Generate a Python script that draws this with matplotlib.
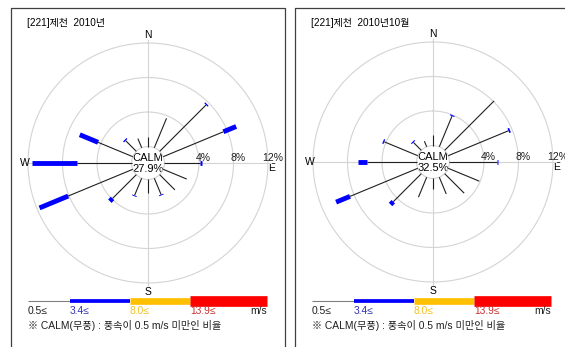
import numpy as np
import matplotlib
matplotlib.use("Agg")
import matplotlib.pyplot as plt

# 16 directions clockwise from north, percent of observations per speed class
dirs_deg = np.arange(16) * 22.5
calm = [27.9, 32.5]
titles = ["[221]제천  2010년", "[221]제천  2010년10월"]
black_pct = [
    [1.1, 3.7, 7.6, 7.55, 4.1, 2.95, 2.5, 2.05, 1.6, 2.15, 3.9, 8.1, 6.35, 4.35, 1.75, 1.15],
    [1.2, 3.85, 8.1, 7.55, 5.55, 3.9, 3.2, 2.1, 1.25, 2.5, 4.6, 8.5, 5.7, 4.2, 1.3, 0.7],
]
blue_pct = [
    [0, 0, 0.15, 1.6, 0.3, 0, 0, 0.1, 0, 0.1, 0.45, 3.6, 5.2, 2.3, 0.15, 0],
    [0, 0.12, 0, 0.2, 0.1, 0, 0, 0, 0, 0, 0.45, 1.75, 1.05, 0.15, 0.12, 0],
]
ring_pct = [4, 8, 12]
ring_labels = ["4%", "8%", "12%"]
speed_labels = ["0.5≤", "3.4≤", "8.0≤", "13.9≤"]
speed_colors = ["#808080", "#0000ff", "#ffc000", "#ff0000"]
label_colors = ["#202020", "#3030b8", "#f0c020", "#c83030"]

W, H = 565, 347
R0 = 1.91      # calm circle offset (in % units)
RMAX = 12
FONT = ["Liberation Sans", "Noto Sans CJK KR", "DejaVu Sans"]
GRID = "#d4d4d4"

fig = plt.figure(figsize=(W / 100, H / 100), dpi=100)
fig.patch.set_facecolor("white")

# overlay in pixel coordinates for frames / legend
ov = fig.add_axes([0, 0, 1, 1])
ov.set_xlim(0, W)
ov.set_ylim(H, 0)
ov.axis("off")

centers = [(148, 163), (433, 162)]
frame_x = [11, 295]
rad_px = 120

for p in range(2):
    cx, cy = centers[p]
    ax = fig.add_axes([(cx - rad_px) / W, (H - cy - rad_px) / H,
                       2 * rad_px / W, 2 * rad_px / H], projection="polar")
    ax.set_theta_zero_location("N")
    ax.set_theta_direction(-1)
    ax.set_ylim(-R0, RMAX)
    ax.axis("off")

    th = np.linspace(0, 2 * np.pi, 361)
    for r in ring_pct:
        ax.plot(th, np.full_like(th, r), color=GRID, lw=0.8, clip_on=False, zorder=1)
    ax.plot(th, np.zeros_like(th), color=GRID, lw=0.8, clip_on=False, zorder=1)
    for a in [0, 90, 180, 270]:
        ax.plot([np.radians(a)] * 2, [0, 12.4], color=GRID, lw=0.8, clip_on=False, zorder=1)

    for d, b, u in zip(dirs_deg, black_pct[p], blue_pct[p]):
        t = np.radians(d)
        ax.plot([t, t], [0, b], color="#202020", lw=0.8, clip_on=False, zorder=3,
                solid_capstyle="butt")
        if u > 0:
            ax.plot([t, t], [b, b + u], color="#0000ff", lw=3.5, clip_on=False, zorder=4,
                    solid_capstyle="butt")

    for r, lab in zip(ring_pct, ring_labels):
        ax.text(np.pi / 2, r + 0.5, lab, ha="center", va="bottom", fontsize=7.5,
                family=FONT, color="#202020", zorder=5)
    ax.text(0, 12.95, "N", ha="center", va="center", fontsize=7.5, family=FONT)
    ax.text(np.pi, 13.05, "S", ha="center", va="center", fontsize=7.5, family=FONT)
    ax.text(3 * np.pi / 2, 12.4, "W", ha="center", va="center", fontsize=7.5, family=FONT)
    ov.text(cx + 124, cy + 5, "E", ha="center", va="center", fontsize=7.5, family=FONT)

    ov.text(cx, cy - 5, "CALM", ha="center", va="center", fontsize=8, family=FONT, zorder=6)
    ov.text(cx, cy + 6, f"{calm[p]}%", ha="center", va="center", fontsize=8, family=FONT,
            zorder=6)

    # frame
    fx = frame_x[p]
    fr = fx + 274 if p == 0 else W + 10
    ov.plot([fx, fx, fr, fr], [H + 10, 8, 8, H + 10], color="#404040", lw=0.9,
            clip_on=False)
    ov.text(fx + 16, 23, titles[p], ha="left", va="center", fontsize=7.2, family=FONT)

    # speed legend
    lx = fx + 17
    seg_w = [42, 60, 60, 77]
    seg_lw = [0.8, 2.7, 4.8, 7.7]
    x0 = lx
    for w, lw, c, lab, lc in zip(seg_w, seg_lw, speed_colors, speed_labels, label_colors):
        ov.plot([x0, x0 + w], [300.5, 300.5], color=c, lw=lw, solid_capstyle="butt")
        ov.text(x0, 311, lab, ha="left", va="center", fontsize=7.4, family=FONT, color=lc)
        x0 += w
    ov.text(x0, 311, "m/s", ha="right", va="center", fontsize=7.4, family=FONT,
            color="#202020")
    ov.text(lx, 325.7, "※ CALM(무풍) : 풍속이 0.5 m/s 미만인 비율", ha="left", va="center",
            fontsize=7.35, family=FONT, color="#202020")

fig.savefig("out.png", dpi=100)
